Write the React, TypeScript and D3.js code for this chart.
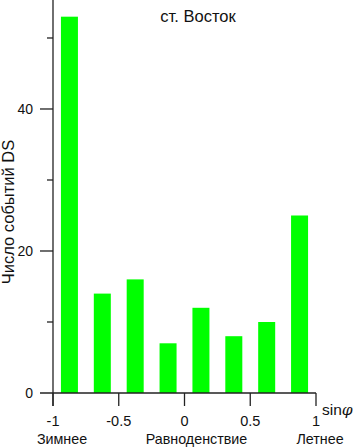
import React, { useEffect, useRef } from 'react';
import * as d3 from 'd3';

// bin centres of sin(phi) and number of DS events in each bin
const binCenters = [-0.875, -0.625, -0.375, -0.125, 0.125, 0.375, 0.625, 0.875];
const eventCounts = [53, 14, 16, 7, 12, 8, 10, 25];
const xTicks = [-1, -0.5, 0, 0.5, 1];
const yMajorTicks = [0, 20, 40];
const yMinorTicks = [10, 30, 50];
const seasonAt = [-1, 0, 1];
const seasonNames = ['Зимнее', 'Равноденствие', 'Летнее'];

const W = 358;
const H = 447;
const FONT = '"Liberation Sans", Arial, sans-serif';

export default function App() {
  const svgRef = useRef<SVGSVGElement>(null);

  useEffect(() => {
    if (!svgRef.current) return;
    const svg = d3.select(svgRef.current);
    svg.selectAll('*').remove();

    const x = d3.scaleLinear().domain([-1, 1]).range([53, 316]);
    const y = d3.scaleLinear().domain([0, 55.35]).range([393, 0]);
    const barW = 17;

    // bars
    svg.append('g')
      .selectAll('rect')
      .data(binCenters)
      .join('rect')
      .attr('x', d => x(d) - barW / 2)
      .attr('width', barW)
      .attr('y', (d, i) => y(eventCounts[i]))
      .attr('height', (d, i) => y(0) - y(eventCounts[i]))
      .attr('fill', '#00ff00');

    const axisColor = '#222';

    // y axis line
    svg.append('line')
      .attr('x1', x(-1)).attr('x2', x(-1))
      .attr('y1', 0).attr('y2', 406)
      .attr('stroke', axisColor).attr('stroke-width', 1.3);

    // x axis line
    svg.append('line')
      .attr('x1', 40).attr('x2', x(1))
      .attr('y1', y(0)).attr('y2', y(0))
      .attr('stroke', axisColor).attr('stroke-width', 1.3);

    // y ticks
    svg.append('g').selectAll('line')
      .data(yMajorTicks.filter(d => d > 0))
      .join('line')
      .attr('x1', 40).attr('x2', x(-1))
      .attr('y1', d => y(d)).attr('y2', d => y(d))
      .attr('stroke', axisColor).attr('stroke-width', 1.3);
    svg.append('g').selectAll('line')
      .data(yMinorTicks)
      .join('line')
      .attr('x1', 47).attr('x2', x(-1))
      .attr('y1', d => y(d)).attr('y2', d => y(d))
      .attr('stroke', axisColor).attr('stroke-width', 1.3);
    svg.append('g').selectAll('text')
      .data(yMajorTicks)
      .join('text')
      .attr('x', 33)
      .attr('y', d => y(d) + 5)
      .attr('text-anchor', 'end')
      .attr('font-family', FONT)
      .attr('font-size', 14)
      .attr('fill', '#111')
      .text(d => d);

    // x ticks
    svg.append('g').selectAll('line')
      .data(xTicks)
      .join('line')
      .attr('x1', d => x(d)).attr('x2', d => x(d))
      .attr('y1', y(0)).attr('y2', 406)
      .attr('stroke', axisColor).attr('stroke-width', 1.3);
    svg.append('g').selectAll('text')
      .data(xTicks)
      .join('text')
      .attr('x', d => x(d))
      .attr('y', 426)
      .attr('text-anchor', 'middle')
      .attr('font-family', FONT)
      .attr('font-size', 14.5)
      .attr('fill', '#111')
      .text(d => d3.format('')(d).replace('−', '-'));

    // season labels (slightly right of their tick, as in the original)
    const seasonShift = [9, 12, 4];
    svg.append('g').selectAll('text')
      .data(seasonAt)
      .join('text')
      .attr('x', (d, i) => x(d) + seasonShift[i])
      .attr('y', 444)
      .attr('text-anchor', 'middle')
      .attr('font-family', FONT)
      .attr('font-size', 14.3)
      .attr('fill', '#111')
      .text((d, i) => seasonNames[i]);

    // x axis title
    const sin = svg.append('text')
      .attr('x', 322)
      .attr('y', 415)
      .attr('font-family', FONT)
      .attr('font-size', 15.5)
      .attr('fill', '#111');
    sin.append('tspan').text('sin');
    sin.append('tspan').attr('font-style', 'italic').attr('font-family', '"DejaVu Serif", serif').text('φ');

    // y axis title
    svg.append('text')
      .attr('transform', 'translate(14,212) rotate(-90)')
      .attr('text-anchor', 'middle')
      .attr('font-family', FONT)
      .attr('font-size', 16.5)
      .attr('fill', '#111')
      .text('Число событий DS');

    // chart title
    svg.append('text')
      .attr('x', 198)
      .attr('y', 22)
      .attr('text-anchor', 'middle')
      .attr('font-family', FONT)
      .attr('font-size', 16.5)
      .attr('fill', '#111')
      .text('ст. Восток');
  }, []);

  return (
    <div style={{ position: 'absolute', left: 0, top: 0 }}>
      <svg ref={svgRef} width={W} height={H} style={{ display: 'block', background: '#fff' }}></svg>
    </div>
  );
}
